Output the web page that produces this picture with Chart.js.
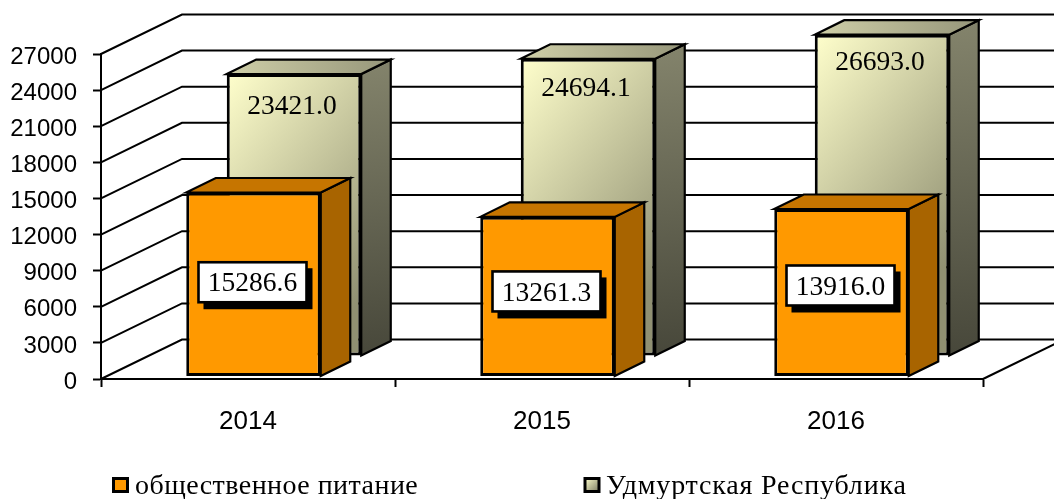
<!DOCTYPE html>
<html>
<head>
<meta charset="utf-8">
<style>html,body{margin:0;padding:0;background:#fff}canvas{display:block}</style>
<script src="https://cdn.jsdelivr.net/npm/chart.js@4"></script>
</head>
<body>
<canvas id="c" width="1054" height="499"></canvas>
<script>
const categories = ['2014', '2015', '2016'];
const foodService = [15286.6, 13261.3, 13916.0];
const udmurtia = [23421.0, 24694.1, 26693.0];
const seriesNames = ['общественное питание', 'Удмуртская Республика'];

const WALL = {dx: 81, dy: -39.5};
const BAR_DEPTH = {dx: 29.5, dy: -14.5};
const ROW = [{dx: 5.5, dy: -2.5}, {dx: 46, dy: -23}];
const BOX_SHIFT = [-2, -5, -7];
const TEXT_SHIFT = [33, 30, 28];

function linear(ctx, x0, y0, x1, y1, stops) {
  const g = ctx.createLinearGradient(x0, y0, x1, y1);
  stops.forEach((c, i) => g.addColorStop(i / (stops.length - 1), c));
  return g;
}

function face(ctx, pts, fill) {
  ctx.beginPath();
  pts.forEach((p, i) => i ? ctx.lineTo(p[0], p[1]) : ctx.moveTo(p[0], p[1]));
  ctx.closePath();
  ctx.fillStyle = fill;
  ctx.fill();
  ctx.lineWidth = 2.2;
  ctx.lineJoin = 'miter';
  ctx.strokeStyle = '#000';
  ctx.stroke();
}

const threeD = {
  id: 'threeD',
  afterDatasetsUpdate(chart) {
    chart.data.datasets.forEach((ds, d) => {
      chart.getDatasetMeta(d).data.forEach(el => {
        el.x += ROW[d].dx;
        el.y += ROW[d].dy;
        el.base += ROW[d].dy;
        if (d === 1) {
          const l = el.x - el.width / 2;
          el.options.backgroundColor = linear(chart.ctx, l, el.y, l + 193, el.y + 150, ['#ffffcc', '#909072']);
        }
      });
    });
  },
  beforeDatasetsDraw(chart) {
    const {ctx, chartArea: a, scales: {y}} = chart;
    ctx.save();
    ctx.strokeStyle = '#000';
    ctx.lineWidth = 2;
    y.ticks.forEach(t => {
      const py = y.getPixelForValue(t.value);
      ctx.beginPath();
      ctx.moveTo(a.left, py);
      ctx.lineTo(a.left + WALL.dx, py + WALL.dy);
      ctx.lineTo(chart.width, py + WALL.dy);
      ctx.stroke();
    });
    ctx.beginPath();
    ctx.moveTo(a.right, a.bottom);
    ctx.lineTo(a.right + WALL.dx, a.bottom + WALL.dy);
    ctx.stroke();
    ctx.restore();
  },
  beforeDatasetDraw(chart, args) {
    const {ctx} = chart;
    const d = args.index;
    ctx.save();
    chart.getDatasetMeta(d).data.forEach(el => {
      const w = el.width / 2;
      const l = el.x - w, r = el.x + w, t = el.y, b = el.base;
      const X = BAR_DEPTH.dx, Y = BAR_DEPTH.dy;
      const side = d === 0 ? '#a86400' : linear(ctx, r, t + Y, r + X, b, ['#84846c', '#47473a']);
      const top = d === 0 ? '#c67500' : linear(ctx, l, t, r + X, t, ['#cfcfa8', '#96967a']);
      face(ctx, [[r, t], [r + X, t + Y], [r + X, b + Y], [r, b]], side);
      face(ctx, [[l, t], [l + X, t + Y], [r + X, t + Y], [r, t]], top);
    });
    ctx.restore();
  },
  afterDatasetsDraw(chart) {
    const {ctx} = chart;
    ctx.save();
    ctx.textAlign = 'center';
    ctx.textBaseline = 'middle';
    ctx.font = '27.5px "Liberation Serif"';
    chart.getDatasetMeta(1).data.forEach((el, i) => {
      ctx.fillStyle = '#000';
      ctx.fillText(udmurtia[i].toFixed(1), el.x - 2, el.y + TEXT_SHIFT[i]);
    });
    chart.getDatasetMeta(0).data.forEach((el, i) => {
      const cx = el.x - 1, cy = (el.y + el.base) / 2 + BOX_SHIFT[i];
      const bw = 108, bh = 40;
      ctx.fillStyle = '#000';
      ctx.fillRect(cx - bw / 2 + 5, cy - bh / 2 + 6, bw + 1, bh + 1);
      ctx.fillStyle = '#fff';
      ctx.lineWidth = 2.6;
      ctx.strokeStyle = '#000';
      ctx.fillRect(cx - bw / 2, cy - bh / 2, bw, bh);
      ctx.strokeRect(cx - bw / 2, cy - bh / 2, bw, bh);
      ctx.fillStyle = '#000';
      ctx.fillText(foodService[i].toFixed(1), cx, cy + 2);
    });
    ctx.restore();
  },
  afterDraw(chart) {
    const {ctx} = chart;
    const items = [{x: 113.5, textX: 135, spacing: '0.45px'}, {x: 585, textX: 606, spacing: '0.82px'}];
    ctx.save();
    ctx.font = '28px "Liberation Serif"';
    ctx.textBaseline = 'alphabetic';
    ctx.textAlign = 'left';
    items.forEach((it, d) => {
      const top = 478.5;
      ctx.fillStyle = d === 0 ? '#ff9900' : linear(ctx, it.x, top, it.x + 14, top + 14, ['#ffffcc', '#77775e']);
      ctx.strokeStyle = '#000';
      ctx.lineWidth = 3;
      ctx.fillRect(it.x, top, 14, 13);
      ctx.strokeRect(it.x, top, 14, 13);
      ctx.fillStyle = '#000';
      ctx.letterSpacing = it.spacing;
      ctx.fillText(seriesNames[d], it.textX, 494);
    });
    ctx.restore();
  }
};

new Chart(document.getElementById('c'), {
  type: 'bar',
  data: {
    labels: categories,
    datasets: [
      {
        label: seriesNames[0],
        data: foodService,
        backgroundColor: '#ff9900',
        borderColor: '#000',
        borderWidth: 3,
        borderSkipped: false,
        clip: false
      },
      {
        label: seriesNames[1],
        data: udmurtia,
        backgroundColor: () => '#ffffcc',
        borderColor: '#000',
        borderWidth: 3,
        borderSkipped: false,
        clip: false
      }
    ]
  },
  options: {
    responsive: false,
    animation: false,
    events: [],
    layout: {padding: {top: 54, right: 71, left: 0, bottom: 0}},
    datasets: {bar: {grouped: false, categoryPercentage: 1, barPercentage: 0.4575}},
    plugins: {legend: {display: false}, tooltip: {enabled: false}},
    scales: {
      x: {
        afterFit(s) { s.height = 120; },
        grid: {drawOnChartArea: false, drawTicks: true, tickLength: 8, tickColor: '#000', tickWidth: 2},
        border: {color: '#000', width: 2},
        ticks: {color: '#000', padding: 19, maxRotation: 0, font: {family: '"Liberation Sans"', size: 26}}
      },
      y: {
        min: 0,
        max: 27000,
        afterFit(s) { s.width = 101; },
        grid: {drawOnChartArea: false, drawTicks: true, tickLength: 8, tickColor: '#000', tickWidth: 2},
        border: {color: '#000', width: 2},
        ticks: {
          stepSize: 3000,
          color: '#000',
          padding: 16,
          labelOffset: 3,
          font: {family: '"Liberation Sans"', size: 24},
          callback: v => String(v)
        }
      }
    }
  },
  plugins: [threeD]
});
</script>
</body>
</html>
